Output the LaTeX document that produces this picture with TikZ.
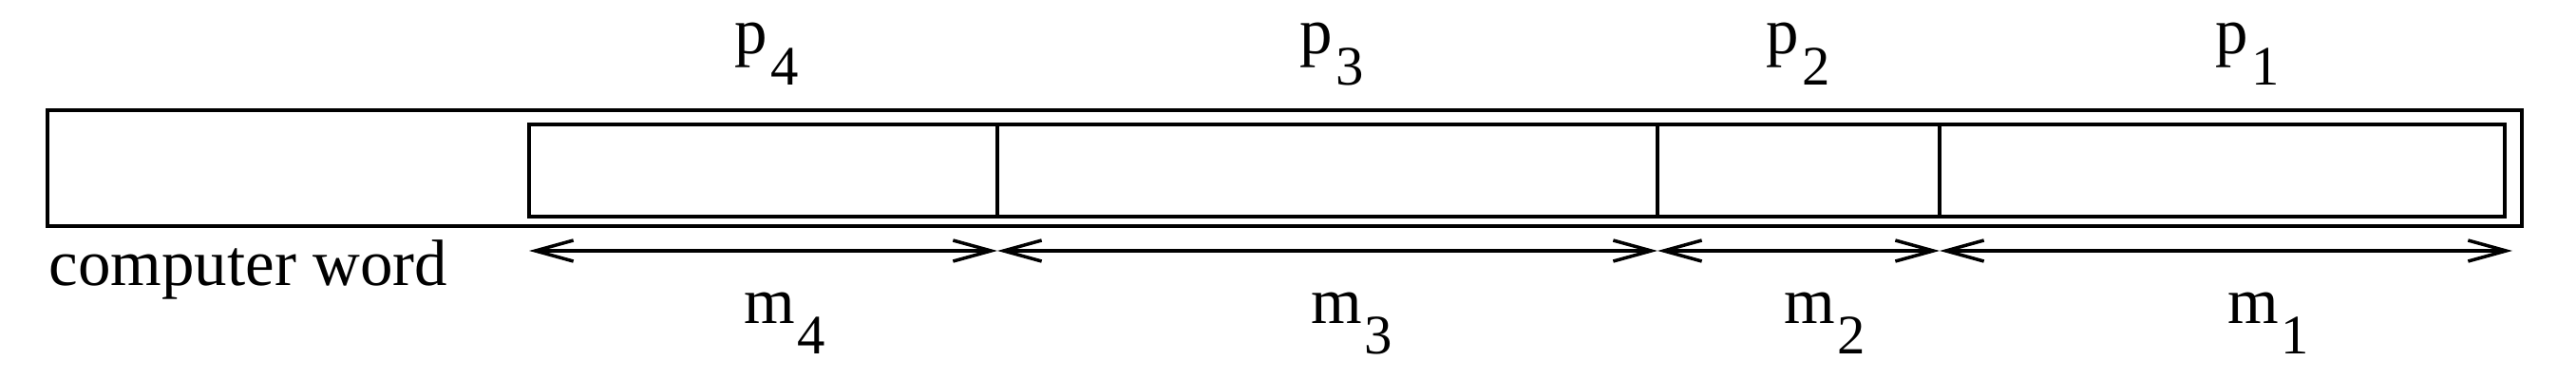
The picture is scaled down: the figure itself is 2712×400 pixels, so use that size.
\documentclass[tikz,border=0pt]{standalone}
\usepackage{fontspec}
\setmainfont{Liberation Serif}
\usetikzlibrary{arrows.meta}
\newcommand{\sublbl}[2]{#1\hspace{0.03cm}\raisebox{-0.32cm}{\fontsize{16.7}{20}\selectfont #2}}
\begin{document}
\begin{tikzpicture}[x=0.01cm,y=-0.01cm,
  box/.style={line width=1.2pt},
  divider/.style={line width=1pt},
  dim/.style={line width=1pt,{Straight Barb[length=0.4cm,width=0.22cm]}-{Straight Barb[length=0.4cm,width=0.22cm]}},
  lab/.style={font=\fontsize{19.6}{24}\selectfont, inner sep=0pt, anchor=base}]
\useasboundingbox (0,0) rectangle (2712,400);
% outer word and inner field box
\coordinate (ow1) at (50,116);
\coordinate (ow2) at (2655,238);
\coordinate (iw1) at (557,131);
\coordinate (iw2) at (2637,228);
\draw[box] (ow1) rectangle (ow2);
\draw[box] (iw1) rectangle (iw2);
% dividers
\foreach \x/\n in {1050/1,1745/2,2042/3} {
  \coordinate (dt\n) at (\x,131);
  \coordinate (db\n) at (\x,228);
  \draw[divider] (dt\n) -- (db\n);
}
% dimension arrows
\coordinate (a0) at (557,264);
\coordinate (a1) at (1050,264);
\coordinate (a2) at (1745,264);
\coordinate (a3) at (2042,264);
\coordinate (a4) at (2645,264);
\draw[dim] (a0) -- (a1);
\draw[dim] (a1) -- (a2);
\draw[dim] (a2) -- (a3);
\draw[dim] (a3) -- (a4);
% labels
\node[lab] (p4) at (807,57) {\sublbl{p}{4}};
\node[lab] (p3) at (1402,57) {\sublbl{p}{3}};
\node[lab] (p2) at (1893,57) {\sublbl{p}{2}};
\node[lab] (p1) at (2366,57) {\sublbl{p}{1}};
\node[lab] (m4) at (826,340) {\sublbl{m}{4}};
\node[lab] (m3) at (1423,340) {\sublbl{m}{3}};
\node[lab] (m2) at (1921,340) {\sublbl{m}{2}};
\node[lab] (m1) at (2388,340) {\sublbl{m}{1}};
\node[lab, anchor=base west] (cw) at (51,300) {computer word};
\end{tikzpicture}
\end{document}
